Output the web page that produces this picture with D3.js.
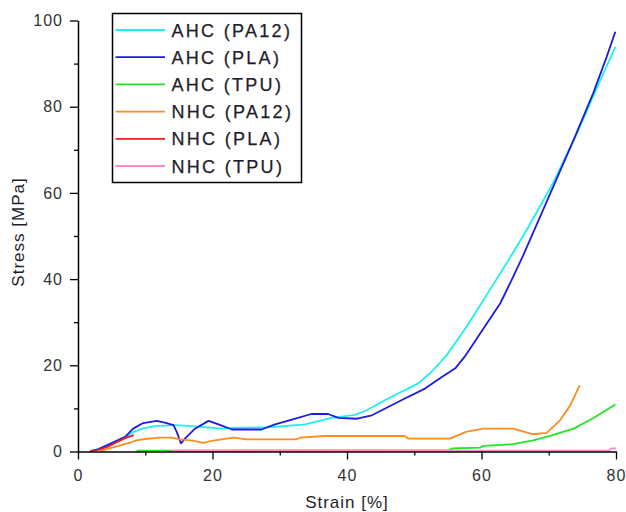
<!DOCTYPE html>
<html>
<head>
<meta charset="utf-8">
<script src="https://cdn.jsdelivr.net/npm/d3@7"></script>
<style>
  html, body { margin: 0; padding: 0; background: #fff; }
  svg { display: block; font-family: "Liberation Sans", Arial, sans-serif; }
</style>
</head>
<body>
<svg id="chart" width="626" height="512"></svg>
<script>
// Stress–strain curves, [strain %, stress MPa]
const ahcPA12 = [[2,0.1],[4.5,1.4],[7,3.2],[8.2,4.5],[9.5,5.3],[11.4,5.9],[14.4,6.1],[17,5.9],[21.4,5.3],[22.9,5.5],[27.8,5.6],[30,5.8],[33.8,6.3],[37.7,7.8],[41.2,8.5],[42.7,9.4],[46.1,12.3],[50.6,15.8],[52.6,18.5],[54.8,22.3],[57.8,29.0],[60.8,36.4],[63.7,43.6],[66.5,50.8],[68.2,55.5],[70.7,62.5],[74.2,73.8],[77.1,84.2],[79.9,93.9]];
const ahcPLA = [[1.8,0.1],[3,0.5],[4.5,1.6],[7,3.4],[8.2,5.3],[9.7,6.6],[11.7,7.1],[12.9,6.7],[14.2,6.1],[14.7,4.5],[15.3,1.9],[15.9,3],[17.4,5.3],[19.4,7.1],[20.9,6.3],[22.9,5.1],[27.3,5.1],[29.3,6.3],[31.8,7.4],[34.7,8.7],[37.2,8.7],[38.7,7.8],[41.5,7.6],[43.7,8.4],[48.6,12.3],[51.6,14.6],[54.1,17.3],[56.1,19.3],[57.5,22],[59.8,27.4],[62.8,34.4],[64.7,40.5],[66.2,45.5],[69.7,58.0],[73.7,72.3],[76.6,83.1],[78.6,91.5],[79.9,97.4]];
const ahcTPU = [[8.7,0.2],[13.9,0.2],[55.2,0.3],[55.6,0.7],[59.8,0.9],[60.3,1.3],[64.7,1.7],[67.7,2.6],[70.2,3.6],[73.7,5.3],[76.6,7.7],[79.9,10.9]];
const nhcPA12 = [[3.3,0.1],[6,1.3],[8,2.2],[8.7,2.6],[10,2.9],[12.2,3.2],[13.9,3.2],[15.2,2.8],[17.1,2.5],[18.6,2.0],[20.1,2.5],[23.1,3.2],[25.1,2.8],[32.5,2.8],[33,3.2],[36.5,3.6],[48.6,3.6],[49.1,3.0],[55.3,3.0],[57.8,4.6],[60.3,5.3],[64.7,5.3],[67.7,4.0],[69.7,4.3],[71.7,7.3],[73.2,10.7],[74.6,15.4]];
const nhcPLA = [[1.8,0.1],[3,0.4],[4.5,1.1],[5.5,2.0],[7,3.1],[8.3,3.8]];
const nhcTPU = [[13.9,0.2],[79,0.2],[79.3,0.7],[80,0.7]];

const seriesNames = ["AHC (PA12)", "AHC (PLA)", "AHC (TPU)", "NHC (PA12)", "NHC (PLA)", "NHC (TPU)"];
const seriesData = [ahcPA12, ahcPLA, ahcTPU, nhcPA12, nhcPLA, nhcTPU];
const seriesColors = ["#1cf0f0", "#1c1ce0", "#22e622", "#ff8c1e", "#f01c1c", "#ff88c8"];

const xMajor = [0, 20, 40, 60, 80];
const xMinor = [10, 30, 50, 70];
const yMajor = [0, 20, 40, 60, 80, 100];
const yMinor = [10, 30, 50, 70, 90];

const svg = d3.select("#chart");
const x = d3.scaleLinear().domain([0, 80]).range([78, 616]);
const y = d3.scaleLinear().domain([0, 100]).range([451.5, 20.5]);

// curves (drawn first so the axes sit on top)
const line = d3.line().x(d => x(d[0])).y(d => y(d[1]));
const plot = svg.append("g");
// order so the flat TPU traces sit above the others near zero
const drawOrder = [0, 1, 3, 4, 2, 5];
drawOrder.forEach(i => {
  plot.append("path")
    .datum(seriesData[i])
    .attr("d", line)
    .attr("fill", "none")
    .attr("stroke", seriesColors[i])
    .attr("stroke-width", 1.8)
    .attr("stroke-linejoin", "round");
});

// axes
function styleAxis(g) {
  g.selectAll("path.domain").attr("stroke", "#000").attr("stroke-width", 1.5);
  g.selectAll(".tick line").attr("stroke", "#000").attr("stroke-width", 1.3);
}
const xAxisY = y(0);
const gxMinor = svg.append("g").attr("transform", `translate(0,${xAxisY})`)
  .call(d3.axisBottom(x).tickValues(xMinor).tickSize(4).tickSizeOuter(0).tickFormat(""));
gxMinor.select("path.domain").remove();
styleAxis(gxMinor);
const gx = svg.append("g").attr("transform", `translate(0,${xAxisY})`)
  .call(d3.axisBottom(x).tickValues(xMajor).tickSize(8).tickSizeOuter(0).tickPadding(10));
styleAxis(gx);
gx.selectAll(".tick text").attr("font-size", 16).attr("fill", "#333").attr("letter-spacing", "1px")
  .attr("font-family", "Liberation Sans, Arial, sans-serif");

const gyMinor = svg.append("g").attr("transform", `translate(${x(0)},0)`)
  .call(d3.axisLeft(y).tickValues(yMinor).tickSize(4).tickSizeOuter(0).tickFormat(""));
gyMinor.select("path.domain").remove();
styleAxis(gyMinor);
const gy = svg.append("g").attr("transform", `translate(${x(0)},0)`)
  .call(d3.axisLeft(y).tickValues(yMajor).tickSize(8).tickSizeOuter(0).tickPadding(7));
styleAxis(gy);
gy.selectAll(".tick text").attr("font-size", 16).attr("fill", "#333").attr("letter-spacing", "1px")
  .attr("font-family", "Liberation Sans, Arial, sans-serif");

// axis titles
svg.append("text")
  .attr("x", 347).attr("y", 508)
  .attr("text-anchor", "middle")
  .attr("font-size", 17).attr("letter-spacing", "1px").attr("fill", "#1e1e2a")
  .text("Strain [%]");
svg.append("text")
  .attr("transform", "translate(24,232) rotate(-90)")
  .attr("text-anchor", "middle")
  .attr("font-size", 17).attr("letter-spacing", "1px").attr("fill", "#1e1e2a")
  .text("Stress [MPa]");

// legend
const legend = svg.append("g");
legend.append("rect")
  .attr("x", 112.5).attr("y", 13.5).attr("width", 189).attr("height", 169)
  .attr("fill", "#fff").attr("stroke", "#000").attr("stroke-width", 1.5);
seriesNames.forEach((name, i) => {
  const ry = 30 + i * 27.2;
  legend.append("line")
    .attr("x1", 115.5).attr("x2", 165).attr("y1", ry).attr("y2", ry)
    .attr("stroke", seriesColors[i]).attr("stroke-width", 1.8);
  legend.append("text")
    .attr("x", 171.5).attr("y", ry + 6.5)
    .attr("font-size", 18).attr("letter-spacing", "2.3px").attr("fill", "#1e1e2a")
    .attr("stroke", "#1e1e2a").attr("stroke-width", 0.25)
    .text(name);
});
</script>
</body>
</html>
